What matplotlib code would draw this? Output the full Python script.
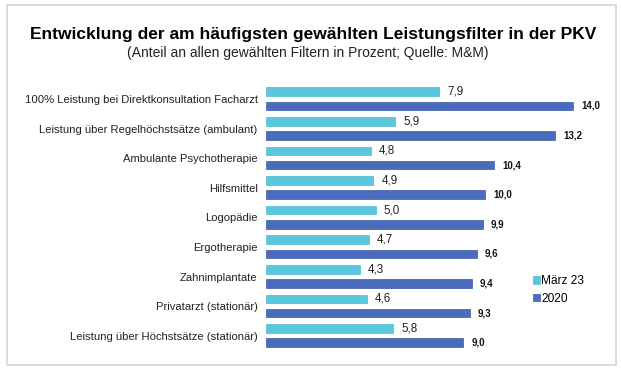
import numpy as np
import matplotlib
matplotlib.use("Agg")
import matplotlib.pyplot as plt
from matplotlib.patches import Rectangle

plt.rcParams['font.family'] = ['Liberation Sans', 'DejaVu Sans']

# Daten (Anteil in Prozent)
kategorien = ["100% Leistung bei Direktkonsultation Facharzt",
              "Leistung über Regelhöchstsätze (ambulant)",
              "Ambulante Psychotherapie",
              "Hilfsmittel",
              "Logopädie",
              "Ergotherapie",
              "Zahnimplantate",
              "Privatarzt (stationär)",
              "Leistung über Höchstsätze (stationär)"]
maerz23 = [7.9, 5.9, 4.8, 4.9, 5.0, 4.7, 4.3, 4.6, 5.8]
jahr2020 = [14.0, 13.2, 10.4, 10.0, 9.9, 9.6, 9.4, 9.3, 9.0]
serien = ["März 23", "2020"]

W, H = 621, 371
fig = plt.figure(figsize=(W / 100, H / 100), dpi=100)

# heller Rahmen
fig.patches.append(Rectangle((7 / W, 1 - 365 / H), 609 / W, 360 / H,
                             transform=fig.transFigure, fill=False,
                             edgecolor='#d4d4d4', linewidth=1.2))

fig.text(313 / W, 1 - 35 / H,
         "Entwicklung der am häufigsten gewählten Leistungsfilter in der PKV",
         ha='center', va='center', fontsize=12.5, fontweight='bold')
fig.text(308 / W, 1 - 53 / H,
         "(Anteil an allen gewählten Filtern in Prozent; Quelle: M&M)",
         ha='center', va='center', fontsize=10, color='#222222')

ax = fig.add_axes([266 / W, 1 - 355 / H, 334 / W, 275 / H])
y = np.arange(len(kategorien))
h = 0.29
b1 = ax.barh(y - 0.245, maerz23, height=h, color='#5AC8DC',
             edgecolor='#4fb8cc', linewidth=0.5, label=serien[0])
b2 = ax.barh(y + 0.235, jahr2020, height=h, color='#4A6BBE',
             edgecolor='#3c5ba8', linewidth=0.5, label=serien[1])

for yi, v in zip(y, maerz23):
    ax.text(v + 0.36, yi - 0.245, f"{v:.1f}".replace('.', ','),
            va='center', ha='left', fontsize=8.4, color='#222222')
for yi, v in zip(y, jahr2020):
    ax.text(v + 0.36, yi + 0.235, f"{v:.1f}".replace('.', ','),
            va='center', ha='left', fontsize=7, fontweight='bold',
            color='#111111')

ax.set_xlim(0, 334 / 21.93)
ax.set_ylim(8.65, -0.642)
ax.set_yticks(y)
ax.set_yticklabels(kategorien, fontsize=8.1, color='#222222')
ax.tick_params(axis='y', length=0, pad=6)
ax.set_xticks([])
for s in ax.spines.values():
    s.set_visible(False)

ax.legend(handles=[b1, b2], loc='center left',
          bbox_to_anchor=(527 / W, 1 - 290 / H),
          bbox_transform=fig.transFigure, frameon=False,
          fontsize=8.6, handlelength=0.55, handleheight=0.55,
          handletextpad=0.15, labelspacing=0.45, borderpad=0)

fig.savefig("out.png", dpi=100)
